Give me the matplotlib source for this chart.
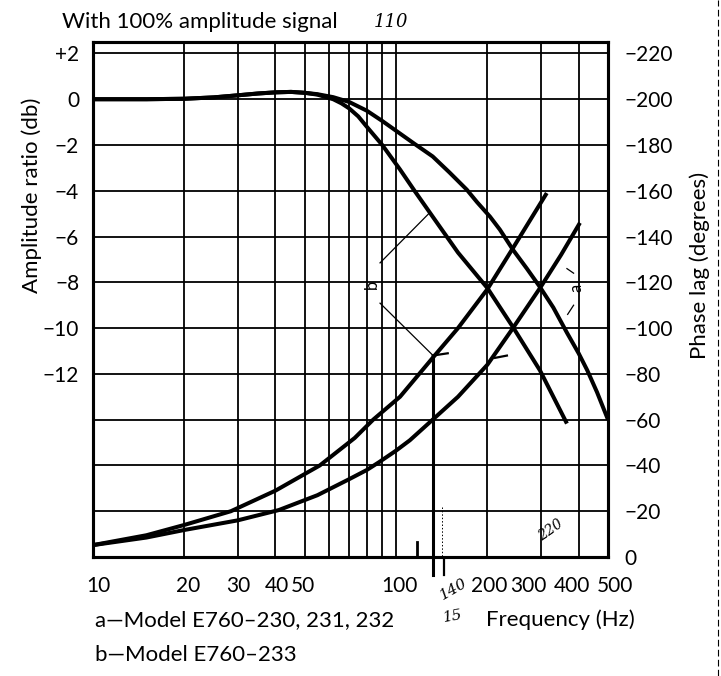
import matplotlib
matplotlib.use('Agg')
import matplotlib.pyplot as plt
import matplotlib.transforms as mtransforms
from matplotlib.ticker import FixedLocator, FixedFormatter, NullFormatter
from matplotlib.lines import Line2D

plt.rcParams['font.family'] = ['Lato', 'DejaVu Sans']
plt.rcParams['font.size'] = 15

# ---- data ----
# amplitude ratio (db), left scale
freq_amp_a = [10, 15, 20, 25, 30, 35, 40, 45, 50, 55, 62, 70, 80, 90, 103, 115,
              132, 150, 171, 185, 204, 220, 243, 270, 298, 330, 366, 400, 427,
              460, 500]
amp_a = [0.0, 0.0, 0.02, 0.08, 0.17, 0.25, 0.3, 0.32, 0.28, 0.22, 0.09, -0.12,
         -0.5, -0.95, -1.5, -1.95, -2.5, -3.2, -3.95, -4.5, -5.13, -5.7, -6.58,
         -7.4, -8.2, -9.1, -10.2, -11.1, -11.84, -12.8, -14.0]
freq_amp_b = [10, 15, 20, 25, 30, 35, 40, 45, 50, 55, 62, 66, 70, 75, 80, 90,
              103, 115, 132, 160, 200, 243, 298, 366]
amp_b = [0.0, 0.0, 0.02, 0.08, 0.17, 0.25, 0.3, 0.32, 0.28, 0.2, 0.0, -0.18,
         -0.4, -0.75, -1.2, -2.0, -3.07, -4.0, -5.13, -6.7, -8.25, -9.96,
         -11.84, -14.17]

# phase lag (degrees), right scale
freq_ph_a = [10, 15, 20, 30, 41, 55, 70, 80, 88, 100, 111, 132, 160, 200, 240,
             300, 350, 404]
ph_a = [5.2, 8.5, 11.8, 16, 20.5, 27, 34, 38, 41.5, 46.5, 51, 60, 70, 84, 99,
        118, 132, 146]
freq_ph_b = [10, 15, 20, 28.5, 40, 56, 73, 84, 103, 132, 160, 200, 243, 314]
ph_b = [5.2, 9.5, 14, 20, 29, 40, 52, 60, 70, 87, 100, 117, 135, 159]

x_major = [10, 20, 30, 40, 50, 100, 200, 300, 400, 500]
x_major_labels = ['10', '20', '30', '40', '50', '100', '200', '300', '400', '500']
x_label_shift = [5, 4, 1, 1, -2, 3, 2, -12, -7, 7]   # px, as printed
x_minor = [60, 70, 80, 90]
db_ticks = [2, 0, -2, -4, -6, -8, -10, -12]
db_labels = ['+2', '0', '\u22122', '\u22124', '\u22126', '\u22128', '\u221210', '\u221212']
ph_ticks = list(range(0, 221, 20))
ph_labels = ['0'] + ['\u2212%d' % v for v in ph_ticks[1:]]

LW_CURVE = 2.9
LW_GRID = 1.3

fig = plt.figure(figsize=(7.21, 6.76), dpi=100)
ax = fig.add_axes([93/721, 1 - 557/676, (608-93)/721, (557-42)/676])
ax2 = ax.twinx()

ax.set_xscale('log')
ax.set_xlim(10, 500)
ax.set_ylim(-20, 2.5)
ax2.set_ylim(0, 225)

ax.xaxis.set_major_locator(FixedLocator(x_major))
ax.xaxis.set_major_formatter(FixedFormatter(x_major_labels))
ax.xaxis.set_minor_locator(FixedLocator(x_minor))
ax.xaxis.set_minor_formatter(NullFormatter())
ax.set_yticks(db_ticks)
ax.set_yticklabels(db_labels)
ax2.set_yticks(ph_ticks)
ax2.set_yticklabels(ph_labels)

ax.tick_params(axis='x', which='both', length=0, pad=14, labelsize=15)
ax.tick_params(axis='y', length=0, pad=10, labelsize=15)
ax2.tick_params(axis='y', length=0, pad=12, labelsize=15)

# nudge the crowded frequency labels as on the printed chart
fig.canvas.draw()
for lab, dx in zip(ax.get_xticklabels(), x_label_shift):
    lab.set_transform(lab.get_transform() +
                      mtransforms.ScaledTranslation(dx/100, 0, fig.dpi_scale_trans))

ax.grid(True, which='both', axis='x', color='black', lw=LW_GRID)
ax2.grid(True, axis='y', color='black', lw=LW_GRID)
for a_ in (ax, ax2):
    for s in a_.spines.values():
        s.set_linewidth(2.2)

# curves
ax.plot(freq_amp_a, amp_a, color='black', lw=LW_CURVE, solid_capstyle='butt')
ax.plot(freq_amp_b, amp_b, color='black', lw=LW_CURVE, solid_capstyle='butt')
ax2.plot(freq_ph_a, ph_a, color='black', lw=LW_CURVE, solid_capstyle='butt')
ax2.plot(freq_ph_b, ph_b, color='black', lw=LW_CURVE, solid_capstyle='butt')

# curve labels with leader lines
ax.text(83, -8.1, 'b', fontsize=12, rotation=90, ha='center', va='center')
ax.plot([88.5, 129], [-7.15, -4.96], color='black', lw=0.9)
ax2.plot([88.5, 132], [110.9, 88.2], color='black', lw=0.9)
ax.text(395, -8.25, 'a', fontsize=12, rotation=90, ha='center', va='center')
ax2.plot([366, 385], [126, 124], color='black', lw=0.9)
ax2.plot([368, 385], [106, 110], color='black', lw=0.9)

# pencil marks
ax2.plot([132, 132], [88, -8], color='black', lw=2.2, clip_on=False)
ax2.plot([132, 148], [88, 89], color='black', lw=1.6)
ax2.plot([212, 232], [87, 88], color='black', lw=1.6)
ax2.plot([141.5, 141.5], [22, 0], color='black', lw=0.7, ls=(0, (1.5, 2)))
ax2.plot([144, 144], [-1, -8], color='black', lw=1.6, clip_on=False)
ax2.plot([117, 117], [0, 6.5], color='black', lw=2.0)

hand = dict(family='DejaVu Serif', style='italic', color='black')
fig.text(374/721, 1 - 22/676, '110', fontsize=13, va='center', **hand)
fig.text(437/721, 1 - 600/676, '140', fontsize=11, rotation=30, **hand)
fig.text(442/721, 1 - 622/676, '15', fontsize=11, rotation=10, **hand)
fig.text(536/721, 1 - 540/676, '220', fontsize=10, rotation=35, **hand)

# titles and axis labels
fig.text(62/721, 1 - 22/676, 'With 100% amplitude signal', fontsize=16,
         ha='left', va='center')
fig.text(32/721, 1 - 195/676, 'Amplitude ratio (db)', fontsize=16,
         rotation=90, ha='center', va='center')
fig.text(700/721, 1 - 265/676, 'Phase lag (degrees)', fontsize=16,
         rotation=90, ha='center', va='center')
fig.text(560/721, 1 - 620/676, 'Frequency (Hz)', fontsize=16,
         ha='center', va='center')
fig.text(95/721, 1 - 620/676, 'a\u2014Model E760\u2013230, 231, 232', fontsize=16,
         ha='left', va='center')
fig.text(95/721, 1 - 655/676, 'b\u2014Model E760\u2013233', fontsize=16,
         ha='left', va='center')

# page edge of the scan
fig.add_artist(Line2D([718/721, 718/721], [0, 1], transform=fig.transFigure,
                      color='black', lw=0.8, ls=(0, (6, 3))))

fig.savefig('out.png', dpi=100, facecolor='white')
